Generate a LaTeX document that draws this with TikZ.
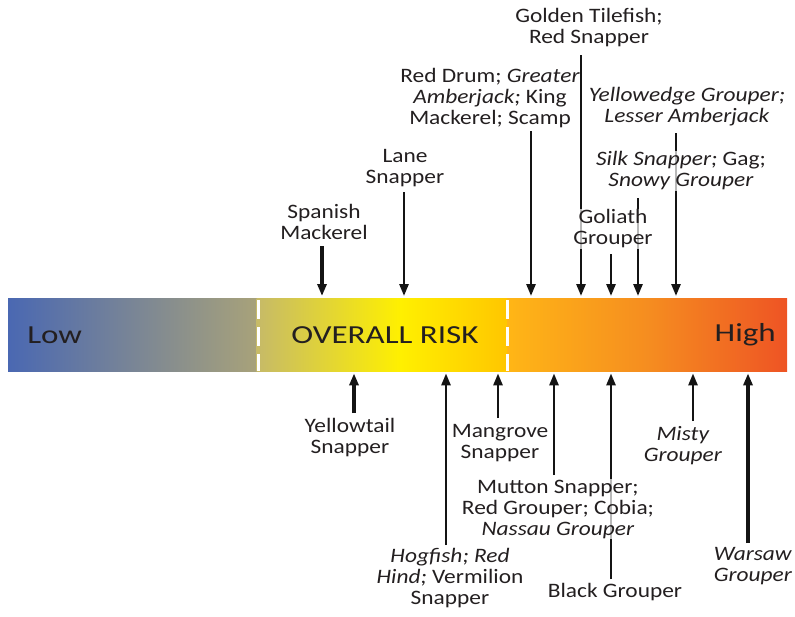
\documentclass[tikz,border=0pt]{standalone}
\usepackage{fontspec}
\setmainfont{Carlito}
\usetikzlibrary{arrows.meta}
\definecolor{txt}{RGB}{35,31,32}
\definecolor{ink}{RGB}{20,20,20}
\definecolor{ca}{RGB}{74,104,178}
\definecolor{cb}{RGB}{168,162,122}
\definecolor{cc}{RGB}{198,186,104}
\definecolor{cd}{RGB}{255,240,0}
\definecolor{ce}{RGB}{255,198,0}
\definecolor{cf}{RGB}{255,182,22}
\definecolor{cg}{RGB}{245,140,32}
\definecolor{ch}{RGB}{238,84,36}
\begin{document}
\begin{tikzpicture}[x=1pt,y=-1pt,
  lbl/.style={font=\fontsize{20.5}{21}\selectfont, align=center, text=txt, inner sep=0.5pt, fill=white, fill opacity=0.7, text opacity=1, xscale=1.14},
  big/.style={font=\fontsize{26}{28}\selectfont, text=txt, inner sep=0pt, xscale=1.27},
  arr/.style={line width=2.6pt, draw=ink, -{Triangle[length=12pt,width=9pt]}, shorten >=2pt},
  thick arr/.style={arr, line width=4pt}]
\useasboundingbox (0,0) rectangle (795,616);
% colour bar
\shade[left color=ca, right color=cb] (8,298) rectangle (257,371);
\shade[left color=cc, right color=cd] (256.5,298) rectangle (400.5,371);
\shade[left color=cd, right color=ce] (400,298) rectangle (507.5,371);
\shade[left color=cf, right color=cg] (507,298) rectangle (650.5,371);
\shade[left color=cg, right color=ch] (650,298) rectangle (787,371);
\node[minimum width=779pt, minimum height=73pt, inner sep=0pt, anchor=north west] (bar) at (8,298) {};
\draw[white, line width=3pt, dash pattern=on 19pt off 8pt, dash phase=-2pt] (258,298) -- (258,371);
\draw[white, line width=3pt, dash pattern=on 19pt off 8pt, dash phase=-2pt] (507,298) -- (507,371);
\node[big, anchor=west] (low) at (27,335) {Low};
\node[big] (risk) at (385,335) {OVERALL RISK};
\node[big, anchor=east] (high) at (776,335) {High};
% arrow tails
\coordinate (t-sm) at (322,246);
\coordinate (t-ln) at (404,192);
\coordinate (t-rd) at (531,131);
\coordinate (t-gt) at (581,55);
\coordinate (t-go) at (611,254);
\coordinate (t-ss) at (638,198);
\coordinate (t-ye) at (676,133);
\coordinate (t-yt) at (354,413);
\coordinate (t-hf) at (446,545);
\coordinate (t-mg) at (498,418);
\coordinate (t-mu) at (554,475);
\coordinate (t-bg) at (611,579);
\coordinate (t-ms) at (693,421);
\coordinate (t-ws) at (748,543);
% arrows above
\draw[arr, line width=3.4pt] (t-sm) -- (bar.north -| t-sm);
\draw[arr] (t-ln) -- (bar.north -| t-ln);
\draw[arr] (t-rd) -- (bar.north -| t-rd);
\draw[arr] (t-gt) -- (bar.north -| t-gt);
\draw[arr] (t-go) -- (bar.north -| t-go);
\draw[arr] (t-ss) -- (bar.north -| t-ss);
\draw[arr] (t-ye) -- (bar.north -| t-ye);
% arrows below
\draw[thick arr] (t-yt) -- (bar.south -| t-yt);
\draw[arr] (t-hf) -- (bar.south -| t-hf);
\draw[arr] (t-mg) -- (bar.south -| t-mg);
\draw[arr] (t-mu) -- (bar.south -| t-mu);
\draw[arr] (t-bg) -- (bar.south -| t-bg);
\draw[arr] (t-ms) -- (bar.south -| t-ms);
\draw[thick arr] (t-ws) -- (bar.south -| t-ws);
% labels above
\node[lbl] (gt) at (589,28) {Golden Tilefish;\\Red Snapper};
\node[lbl] (rd) at (490,98) {Red Drum; \textit{Greater}\\\textit{Amberjack;} King\\Mackerel; Scamp};
\node[lbl] (ye) at (687,107) {\textit{Yellowedge Grouper;}\\\textit{Lesser Amberjack}};
\node[lbl] (ln) at (405,168) {Lane\\Snapper};
\node[lbl] (ss) at (681,171) {\textit{Silk Snapper;} Gag;\\\textit{Snowy Grouper}};
\node[lbl] (sm) at (324,222) {Spanish\\Mackerel};
\node[lbl] (go) at (613,229) {Goliath\\Grouper};
% labels below
\node[lbl] (yt) at (350,438) {Yellowtail\\Snapper};
\node[lbl] (mg) at (500,443) {Mangrove\\Snapper};
\node[lbl] (ms) at (683,446) {\textit{Misty}\\\textit{Grouper}};
\node[lbl] (mu) at (558,509) {Mutton Snapper;\\Red Grouper; Cobia;\\\textit{Nassau Grouper}};
\node[lbl] (hf) at (450,578) {\textit{Hogfish; Red}\\\textit{Hind;} Vermilion\\Snapper};
\node[lbl] (ws) at (753,566) {\textit{Warsaw}\\\textit{Grouper}};
\node[lbl] (bg) at (615,592) {Black Grouper};
\end{tikzpicture}
\end{document}
